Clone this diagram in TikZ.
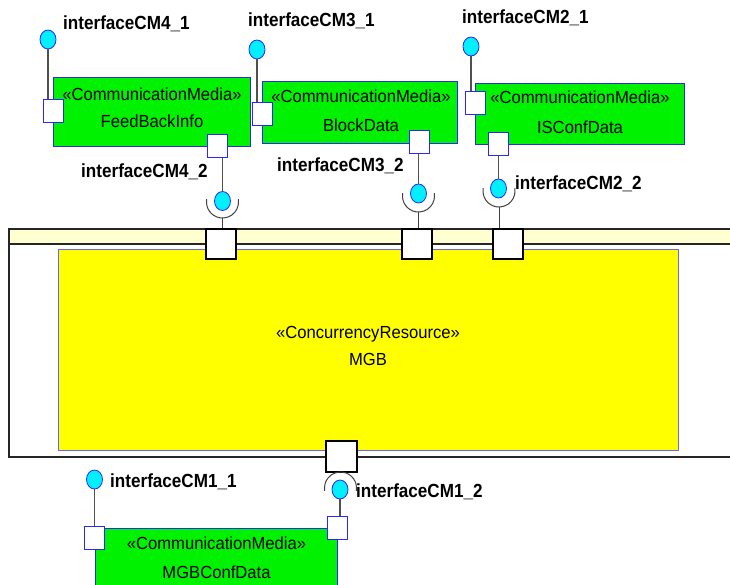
\documentclass[tikz,border=0pt]{standalone}
\usepackage{fontspec}
\setmainfont{Liberation Sans}
\newfontfamily\lblfont[FakeStretch=0.9]{Liberation Sans}
\newfontfamily\stfont[FakeStretch=0.95]{Liberation Sans}
\usetikzlibrary{shapes.geometric}

\definecolor{cmgreen}{RGB}{0,242,0}
\definecolor{edgeblue}{RGB}{40,40,255}
\definecolor{resyellow}{RGB}{255,255,0}
\definecolor{resedge}{RGB}{100,100,255}
\definecolor{hdrfill}{RGB}{255,255,210}
\definecolor{wire}{RGB}{80,80,80}
\definecolor{lollicyan}{RGB}{0,240,255}

\begin{document}
\begin{tikzpicture}[x=1pt,y=-1pt,
  cmbox/.style={draw=edgeblue, line width=0.9pt, fill=cmgreen, rectangle, inner sep=0pt},
  resbox/.style={draw=resedge, line width=1pt, fill=resyellow, rectangle, inner sep=0pt},
  stereo/.style={font=\stfont\fontsize{17.5}{20}\selectfont, inner sep=0pt, anchor=base},
  lbl/.style={font=\lblfont\bfseries\fontsize{19}{22}\selectfont, inner sep=0pt, anchor=base west},
  cmport/.style={draw=edgeblue, line width=0.9pt, fill=white, rectangle, inner sep=0pt,
                 minimum width=20pt, minimum height=23pt},
  mainport/.style={draw=black, line width=1.7pt, fill=white, rectangle, inner sep=0pt,
                   minimum width=30pt, minimum height=30pt},
  lolli/.style={draw=edgeblue, line width=0.8pt, fill=lollicyan, ellipse, inner sep=0pt,
                minimum width=16pt, minimum height=19pt},
  wireline/.style={draw=wire, line width=1.1pt},
  sockline/.style={draw=black!75, line width=1pt},
  frame/.style={draw=black!85, line width=1.8pt}
]
\useasboundingbox (0,0) rectangle (730,585);
\clip (0,0) rectangle (730,585);
\fill[white] (0,0) rectangle (730,585);

% container of the concurrency resource (runs off the right edge)
\draw[frame, fill=white] (9,229) rectangle (760,457);
\draw[frame, fill=hdrfill] (9,229) rectangle (760,244);

% the concurrency resource itself
\node[resbox, minimum width=620pt, minimum height=201pt] (mgb) at (368,349.5) {};
\node[stereo] (mgbst) at (368,338) {«ConcurrencyResource»};
\node[stereo] (mgbnm) at (368,365) {MGB};

% communication media
\node[cmbox, minimum width=197pt, minimum height=69pt] (fb) at (151.5,111.5) {};
\node[stereo] (fbst) at (152,101) {«CommunicationMedia»};
\node[stereo] (fbnm) at (152,128) {FeedBackInfo};

\node[cmbox, minimum width=195pt, minimum height=62pt] (bd) at (359.5,112) {};
\node[stereo] (bdst) at (361,103) {«CommunicationMedia»};
\node[stereo] (bdnm) at (361,132) {BlockData};

\node[cmbox, minimum width=209pt, minimum height=61pt] (is) at (579.5,113.5) {};
\node[stereo] (isst) at (580,104) {«CommunicationMedia»};
\node[stereo] (isnm) at (580,134) {ISConfData};

\node[cmbox, minimum width=242pt, minimum height=80pt] (mg) at (216,568) {};
\node[stereo] (mgst) at (216.5,549) {«CommunicationMedia»};
\node[stereo] (mgnm) at (216.5,578) {MGBConfData};

% ports of the communication media
\node[cmport] (fbL) at (53,111) {};
\node[cmport] (fbB) at (217.5,146) {};
\node[cmport] (bdL) at (262,113.5) {};
\node[cmport] (bdB) at (419,142) {};
\node[cmport] (isL) at (475.5,102.5) {};
\node[cmport] (isB) at (498,143.5) {};
\node[cmport] (mgL) at (94,537.5) {};
\node[cmport] (mgR) at (337.5,527.5) {};

% ports of the container
\node[mainport] (p1) at (221,244) {};
\node[mainport] (p2) at (417,244) {};
\node[mainport] (p3) at (508,244) {};
\node[mainport, minimum width=31pt, minimum height=31pt] (p4) at (341.5,456.5) {};

% required-interface sockets
\coordinate (s4) at (222.5,202);
\coordinate (s3) at (418.5,196);
\coordinate (s2) at (499,191);
\coordinate (s1) at (340.5,488);
\coordinate (s4b) at (222.5,218);
\coordinate (s3b) at (418.5,212);
\coordinate (s2b) at (499,207);
\draw[sockline] (s4) ++(170:16pt) arc[start angle=170, end angle=370, radius=16pt];
\draw[sockline] (s3) ++(170:16pt) arc[start angle=170, end angle=370, radius=16pt];
\draw[sockline] (s2) ++(170:16pt) arc[start angle=170, end angle=370, radius=16pt];
\draw[sockline] (s1) ++(-10:16pt) arc[start angle=-10, end angle=190, radius=16pt];
\draw[sockline] (s4b) -- (s4b |- p1.north);
\draw[sockline] (s3b) -- (s3b |- p2.north);
\draw[sockline] (s2b) -- (s2b |- p3.north);

% provided-interface lollipops
\node[lolli] (l41) at (48,39.5) {};
\node[lolli] (l31) at (257,49.5) {};
\node[lolli] (l21) at (471,46.5) {};
\node[lolli] (l42) at (222.5,201) {};
\node[lolli] (l32) at (418.5,193.5) {};
\node[lolli] (l22) at (498.5,188.5) {};
\node[lolli] (l11) at (94.5,479.5) {};
\node[lolli] (l12) at (340,489.5) {};

% lollipop stems
\draw[wireline] (l41.south) -- (l41.south |- fbL.north);
\draw[wireline] (l31.south) -- (l31.south |- bdL.north);
\draw[wireline] (l21.south) -- (l21.south |- isL.north);
\draw[wireline] (l42.north |- fbB.south) -- (l42.north);
\draw[wireline] (l32.north |- bdB.south) -- (l32.north);
\draw[wireline] (l22.north |- isB.south) -- (l22.north);
\draw[wireline] (l11.south) -- (l11.south |- mgL.north);
\draw[wireline] (l12.south) -- (l12.south |- mgR.north);

% interface names
\node[lbl] (t41) at (63,30) {interfaceCM4\_1};
\node[lbl] (t31) at (248,27) {interfaceCM3\_1};
\node[lbl] (t21) at (462,24) {interfaceCM2\_1};
\node[lbl] (t42) at (81,178) {interfaceCM4\_2};
\node[lbl] (t32) at (277,172) {interfaceCM3\_2};
\node[lbl] (t22) at (515,190) {interfaceCM2\_2};
\node[lbl] (t11) at (110,487) {interfaceCM1\_1};
\node[lbl] (t12) at (356,497) {interfaceCM1\_2};
\end{tikzpicture}
\end{document}
